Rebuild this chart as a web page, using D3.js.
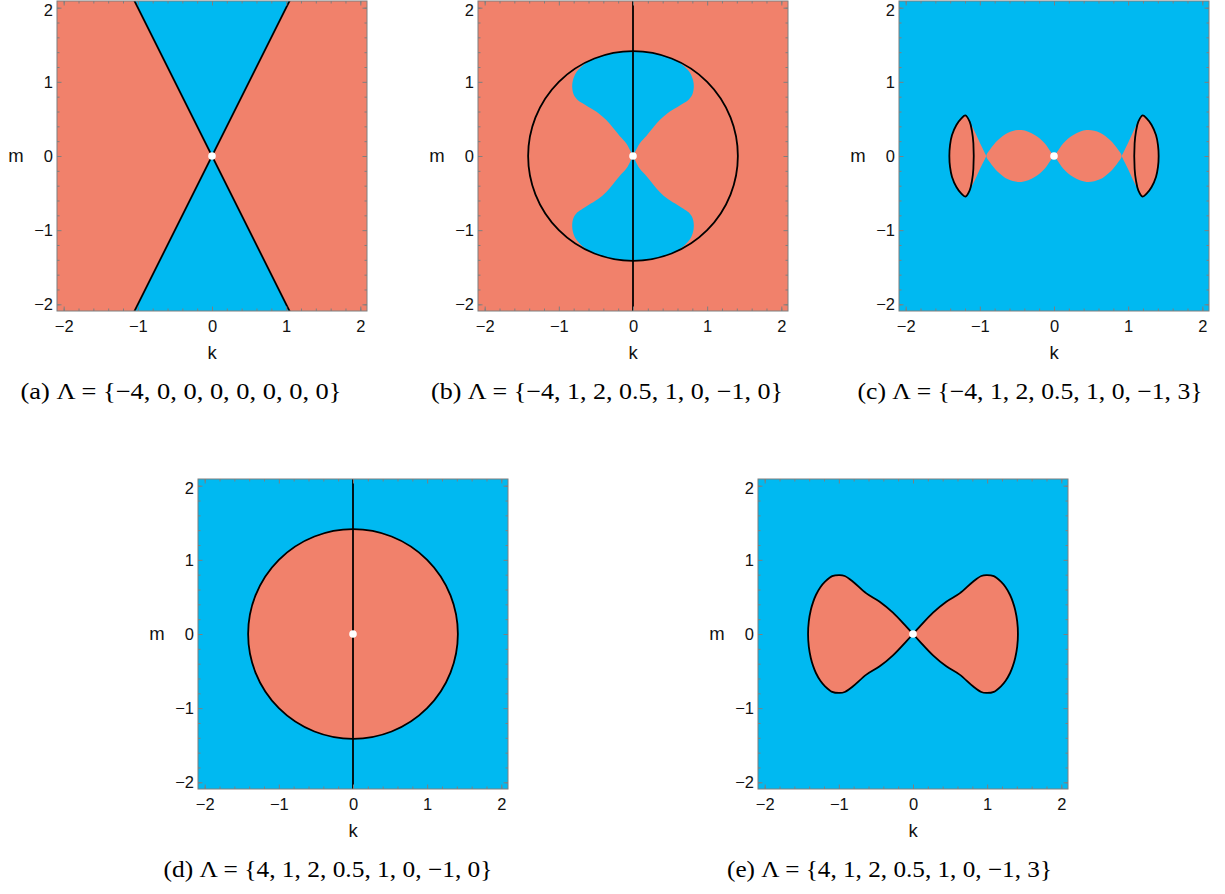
<!DOCTYPE html>
<html>
<head>
<meta charset="utf-8">
<script src="https://cdn.jsdelivr.net/npm/d3@7"></script>
<style>
  body { margin: 0; background: #ffffff; }
  svg { display: block; }
</style>
</head>
<body>
<svg id="chart" width="1225" height="894"></svg>
<script>
// ---- data -------------------------------------------------------------
const panelIds = ["a", "b", "c", "d", "e"];
const lambdaSets = [
  [-4, 0, 0, 0, 0, 0, 0, 0],
  [-4, 1, 2, 0.5, 1, 0, -1, 0],
  [-4, 1, 2, 0.5, 1, 0, -1, 3],
  [4, 1, 2, 0.5, 1, 0, -1, 0],
  [4, 1, 2, 0.5, 1, 0, -1, 3]
];
const majorTicks = [-2, -1, 0, 1, 2];
const majorTickLabels = ["−2", "−1", "0", "1", "2"];
const minorTicks = [-2.0, -1.8, -1.6, -1.4, -1.2, -0.8, -0.6, -0.4, -0.2,
                    0.2, 0.4, 0.6, 0.8, 1.2, 1.4, 1.6, 1.8, 2.0];
const axisRange = [-2.09, 2.09];
const xLabel = "k", yLabel = "m";

// (a) straight boundaries m = ±2k through the origin
const linesA = [[[-1.1, -2.2], [1.1, 2.2]], [[-1.1, 2.2], [1.1, -2.2]]];
const wedgeA = [[0, 0], [1.1, 2.2], [-1.1, 2.2]];            // upper wedge; mirrored below

// (b) circle k²+m² = 2 with the axis k = 0, blue lobes inside
const circleRadius = 1.414;
const lobeEdgeB = [[0, 0], [0.03, 0.06], [0.09, 0.17], [0.18, 0.27], [0.27, 0.38],
  [0.36, 0.485], [0.47, 0.58], [0.6, 0.66], [0.68, 0.71], [0.75, 0.76], [0.8, 0.83],
  [0.82, 0.93], [0.81, 1.02], [0.77, 1.12], [0.7, 1.2], [0.62, 1.27],
  [0.5, 1.5], [0.25, 1.65], [0, 1.7]];                         // upper-right quarter

// (c) central lenses, thin cusps and two closed outer ovals
const lensC = [[0, 0], [0.04, 0.05], [0.126, 0.171], [0.26, 0.283], [0.44, 0.35],
  [0.62, 0.315], [0.755, 0.216], [0.867, 0.081], [0.912, 0]];  // upper-right lens edge
const cuspC = [[0.912, 0], [1.0, 0.18], [1.06, 0.31], [1.12, 0.42], [1.10, 0.2], [1.08, 0]];
const ovalOuterC = [[1.195, 0.548], [1.249, 0.508], [1.316, 0.418], [1.375, 0.283],
  [1.402, 0.148], [1.411, 0]];                                 // outer side, top to axis
const ovalInnerC = [[1.078, 0], [1.087, 0.171], [1.105, 0.328], [1.137, 0.463]]; // inner side, axis to top

// (e) bow-tie with an outline; upper-right quarter of the boundary
const bowEdgeE = [[0, 0], [0.09, 0.099], [0.27, 0.288], [0.449, 0.436], [0.629, 0.548],
  [0.809, 0.705], [0.921, 0.782], [0.988, 0.795], [1.09, 0.78], [1.186, 0.705],
  [1.249, 0.63], [1.309, 0.526], [1.347, 0.43], [1.378, 0.323], [1.405, 0.17], [1.415, 0]];

// ---- layout & style ----------------------------------------------------
const COL_RED = "#F1816B";
const COL_BLUE = "#00B9F1";
const FRAME = "#7f7f7f";
const SIZE = 310;
const SANS = "'Liberation Sans', Arial, Helvetica, sans-serif";
const SERIF = "'Liberation Serif', 'Times New Roman', serif";
const panels = [
  { left: 57,  top: 1,   bg: COL_RED,  cap: 181, capW: 321 },
  { left: 478, top: 1,   bg: COL_RED,  cap: 607, capW: 352 },
  { left: 899, top: 1,   bg: COL_BLUE, cap: 1030, capW: 345 },
  { left: 198, top: 479, bg: COL_BLUE, cap: 328, capW: 329 },
  { left: 758, top: 479, bg: COL_BLUE, cap: 889.5, capW: 325 }
];

const svg = d3.select("#chart");
const fmt = v => (v < 0 ? "−" + Math.abs(v) : String(v));

// mirror helpers for the symmetric shapes
const flipM = pts => pts.map(([k, m]) => [k, -m]);
const flipK = pts => pts.map(([k, m]) => [-k, m]);
const rev = pts => pts.slice().reverse();

panels.forEach((p, i) => {
  const x = d3.scaleLinear().domain(axisRange).range([0, SIZE]);
  const y = d3.scaleLinear().domain(axisRange).range([SIZE, 0]);
  const g = svg.append("g").attr("transform", `translate(${p.left},${p.top})`);
  const clipId = "clip-" + panelIds[i];
  g.append("clipPath").attr("id", clipId)
    .append("rect").attr("width", SIZE).attr("height", SIZE);
  const plot = g.append("g").attr("clip-path", `url(#${clipId})`);

  const smooth = d3.line().x(d => x(d[0])).y(d => y(d[1])).curve(d3.curveCatmullRom.alpha(0.5));
  const closed = d3.line().x(d => x(d[0])).y(d => y(d[1])).curve(d3.curveCatmullRomClosed.alpha(0.5));
  const straight = d3.line().x(d => x(d[0])).y(d => y(d[1]));

  plot.append("rect").attr("width", SIZE).attr("height", SIZE).attr("fill", p.bg);

  const black = sel => sel.attr("stroke", "#000")
    .attr("stroke-width", 1.8).attr("stroke-linejoin", "round");

  if (i === 0) {
    [wedgeA, flipM(wedgeA)].forEach(w =>
      plot.append("path").attr("d", straight(w) + "Z").attr("fill", COL_BLUE));
    linesA.forEach(l => plot.append("path").attr("d", straight(l)).attr("fill", "none").call(black));
  }

  if (i === 1) {
    const discId = "disc-b";
    g.append("clipPath").attr("id", discId)
      .append("circle").attr("cx", x(0)).attr("cy", y(0))
      .attr("r", x(circleRadius) - x(0));
    const lobes = plot.append("g").attr("clip-path", `url(#${discId})`);
    const upper = lobeEdgeB.concat(rev(flipK(lobeEdgeB)).slice(1));
    [upper, flipM(upper)].forEach(s =>
      lobes.append("path").attr("d", smooth(s) + "Z").attr("fill", COL_BLUE));
  }

  if (i === 2) {
    const lensR = lensC.concat(rev(flipM(lensC)).slice(1));
    const cuspR = cuspC.concat(rev(flipM(cuspC)).slice(1));
    // closed oval: outer side top→bottom, then inner side bottom→top
    const ovalR = ovalOuterC.concat(rev(flipM(ovalOuterC)).slice(1))
      .concat(rev(flipM(ovalInnerC)).slice(0, -1), ovalInnerC.slice(1));
    [lensR, flipK(lensR)].forEach(s =>
      plot.append("path").attr("d", smooth(s) + "Z").attr("fill", COL_RED));
    [cuspR, flipK(cuspR)].forEach(s =>
      plot.append("path").attr("d", smooth(s) + "Z").attr("fill", COL_RED));
    [ovalR, flipK(ovalR)].forEach(s =>
      plot.append("path").attr("d", closed(s)).attr("fill", COL_RED).call(black));
  }

  if (i === 3) {
    plot.append("circle").attr("cx", x(0)).attr("cy", y(0))
      .attr("r", x(circleRadius) - x(0)).attr("fill", COL_RED);
  }

  if (i === 1 || i === 3) {
    plot.append("circle").attr("cx", x(0)).attr("cy", y(0))
      .attr("r", x(circleRadius) - x(0)).attr("fill", "none").call(black);
    plot.append("line").attr("x1", x(0)).attr("x2", x(0))
      .attr("y1", 0).attr("y2", SIZE).call(black);
  }

  if (i === 4) {
    const upperR = bowEdgeE.concat(rev(flipM(bowEdgeE)).slice(1));
    [upperR, flipK(upperR)].forEach(s =>
      plot.append("path").attr("d", smooth(s) + "Z").attr("fill", COL_RED).call(black));
  }

  // critical point at the origin
  plot.append("circle").attr("cx", x(0)).attr("cy", y(0)).attr("r", 3.8).attr("fill", "#fff");

  // frame with inward ticks on all four sides
  const sides = [
    { ax: d3.axisBottom(x), t: `translate(0,${SIZE})`, lab: true, pad: 9 },
    { ax: d3.axisTop(x), t: "translate(0,0)", lab: false, pad: 3 },
    { ax: d3.axisLeft(y), t: "translate(0,0)", lab: true, pad: 4 },
    { ax: d3.axisRight(y), t: `translate(${SIZE},0)`, lab: false, pad: 3 }
  ];
  sides.forEach(s => {
    g.append("g").attr("transform", s.t)
      .call(s.ax.tickValues(minorTicks).tickSizeInner(-2.5).tickSizeOuter(0).tickFormat(""))
      .call(a => a.select(".domain").remove());
    const major = g.append("g").attr("transform", s.t)
      .call(s.ax.tickValues(majorTicks).tickSizeInner(-4.5).tickSizeOuter(0).tickPadding(s.pad)
        .tickFormat(s.lab ? (d, j) => majorTickLabels[j] : ""))
      .call(a => a.select(".domain").remove());
    if (s.lab) major.classed("labelled", true);
  });
  g.selectAll(".tick line").attr("stroke", FRAME);
  g.selectAll(".labelled .tick text").attr("font-family", SANS)
    .attr("font-size", 16.5).attr("fill", "#111");
  // keep the topmost m label inside the figure
  g.selectAll(".labelled .tick text").filter(d => d === majorTicks[majorTicks.length - 1])
    .filter(function () { return this.getAttribute("x") !== null && +this.getAttribute("x") < 0; })
    .attr("dy", "0.5em");

  g.append("rect").attr("width", SIZE).attr("height", SIZE)
    .attr("fill", "none").attr("stroke", FRAME).attr("stroke-width", 1);

  g.append("text").attr("x", SIZE / 2).attr("y", SIZE + 42).attr("dy", "0.35em")
    .attr("text-anchor", "middle").attr("font-family", SANS)
    .attr("font-size", 18.5).attr("fill", "#111").text(xLabel);
  g.append("text").attr("x", -41).attr("y", y(0)).attr("dy", "0.32em")
    .attr("text-anchor", "middle").attr("font-family", SANS)
    .attr("font-size", 18.5).attr("fill", "#111").text(yLabel);

  const capText = `(${panelIds[i]}) Λ = {${lambdaSets[i].map(fmt).join(", ")}}`;
  svg.append("text").attr("x", p.cap).attr("y", p.top + SIZE + 88)
    .attr("text-anchor", "middle").attr("font-family", SERIF)
    .attr("font-size", 23).attr("fill", "#000")
    .attr("textLength", p.capW).attr("lengthAdjust", "spacingAndGlyphs")
    .text(capText);
});
</script>
</body>
</html>
